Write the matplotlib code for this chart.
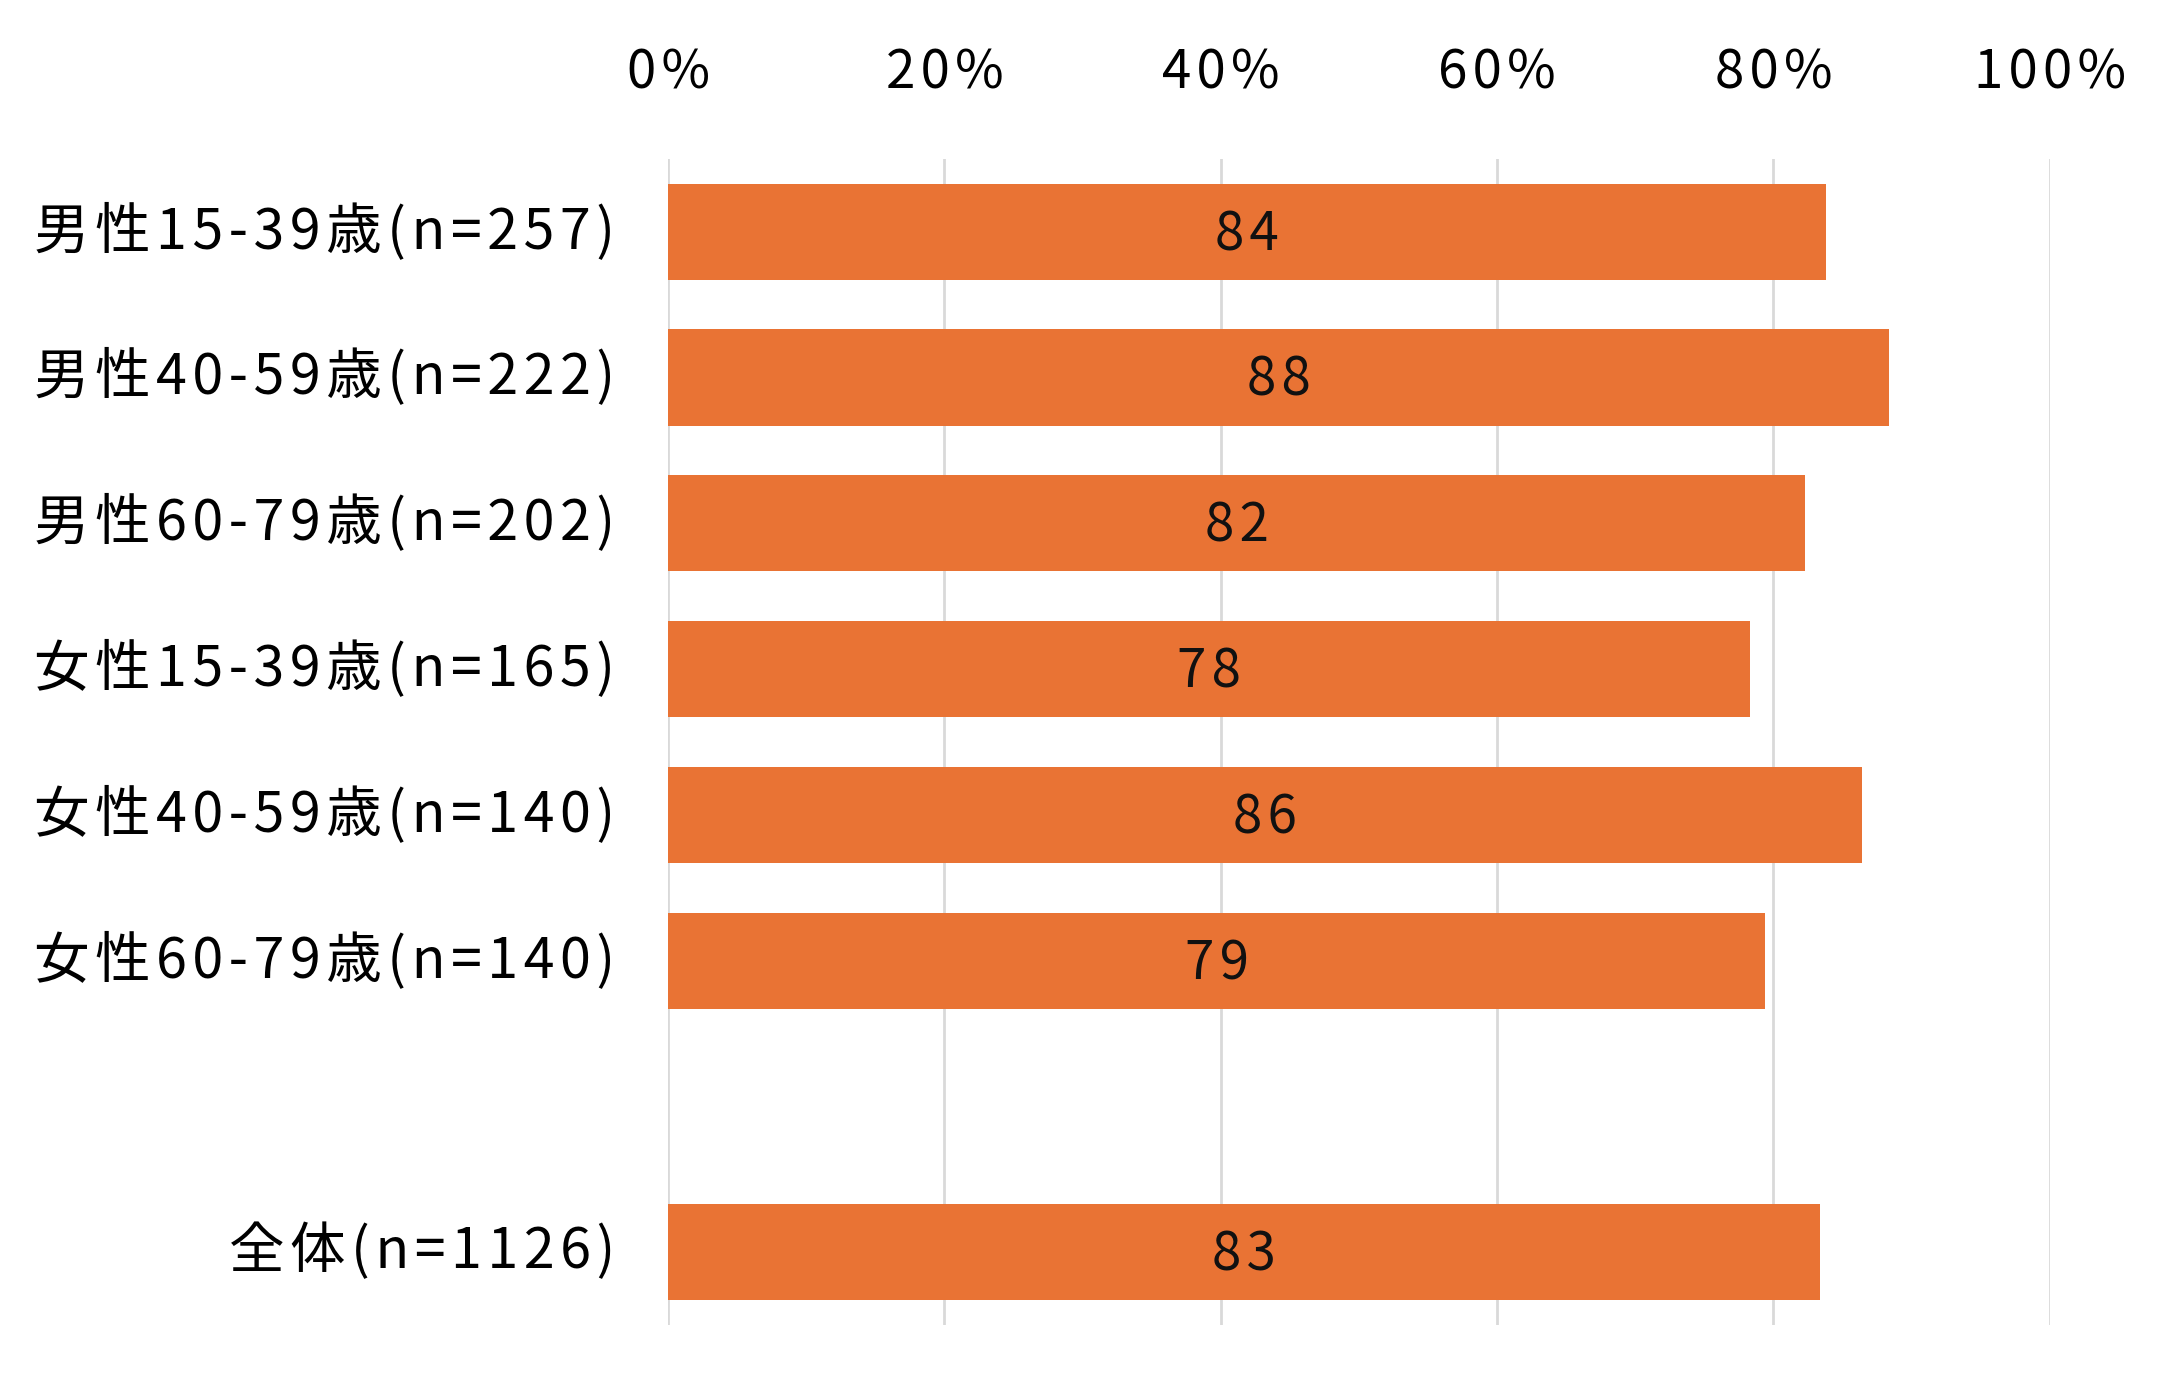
import matplotlib
matplotlib.use('Agg')
import matplotlib.pyplot as plt

plt.rcParams['font.family'] = ['Noto Sans CJK JP', 'DejaVu Sans']

categories = ['男性15-39歳(n=257)', '男性40-59歳(n=222)', '男性60-79歳(n=202)',
              '女性15-39歳(n=165)', '女性40-59歳(n=140)', '女性60-79歳(n=140)',
              '', '全体(n=1126)']
values = [83.8, 88.4, 82.3, 78.3, 86.4, 79.4, None, 83.4]
xticks = [0, 20, 40, 60, 80, 100]


def spaced(s):
    # widen letter spacing a little, like the original chart font
    return '\u200a'.join(s)


fig = plt.figure(figsize=(21.69, 13.76), dpi=100)
ax = fig.add_axes([0.308, 0.037, 0.637, 0.8475])

bar_color = '#E97334'
for i, v in enumerate(values):
    if v is None:
        continue
    ax.barh(i, v, height=0.66, color=bar_color, zorder=2)
    ax.text(v / 2, i + 0.02, spaced(f'{v:.0f}'), ha='center', va='center', fontsize=38,
            color='#111111', zorder=3)

ax.set_ylim(len(categories) - 0.5, -0.5)
ax.set_xlim(0, 100)
ax.set_yticks(range(len(categories)))
ax.set_yticklabels([spaced(c) for c in categories], fontsize=40, va='center')
ax.set_xticks(xticks)
ax.set_xticklabels([spaced(f'{t}%') for t in xticks], fontsize=38)
ax.xaxis.tick_top()
ax.tick_params(axis='x', length=0, pad=42)
ax.tick_params(axis='y', length=0, pad=38)
ax.grid(axis='x', color='#D9D9D9', linewidth=2, zorder=0)
for s in ax.spines.values():
    s.set_visible(False)

fig.savefig('out.png', dpi=100)
